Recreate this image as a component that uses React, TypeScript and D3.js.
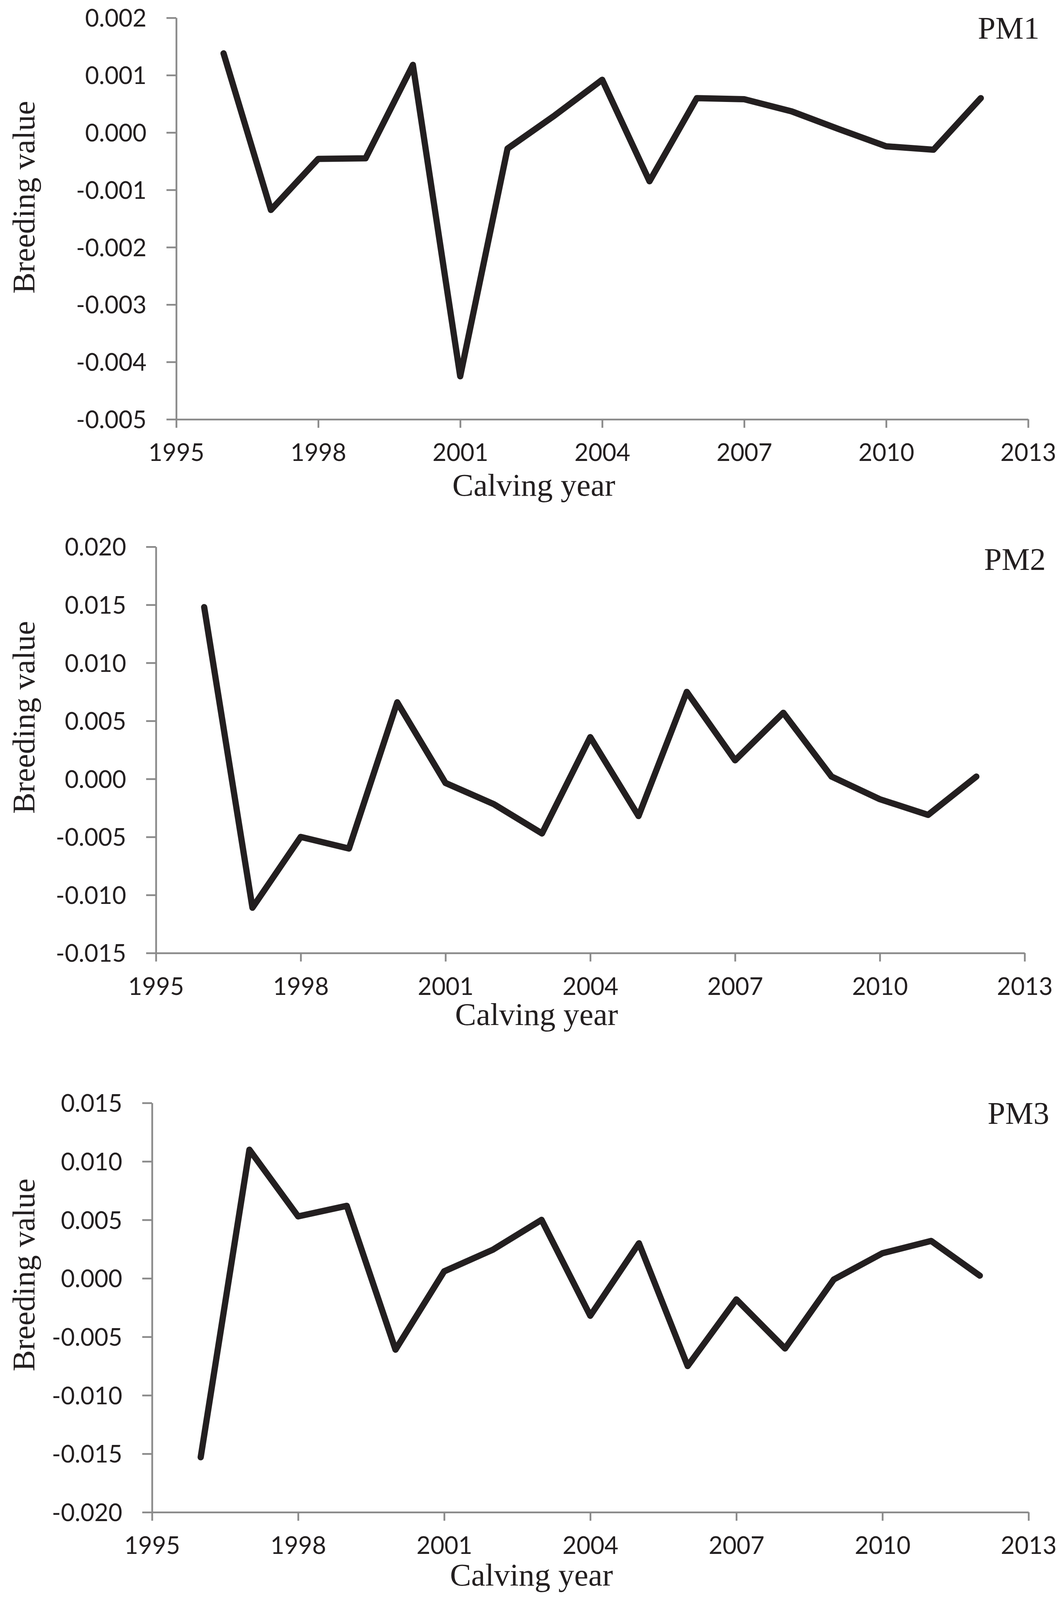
import React, { useEffect, useRef } from 'react';
import * as d3 from 'd3';

// calving years and the breeding value trend
const years = [1996, 1997, 1998, 1999, 2000, 2001, 2002, 2003, 2004, 2005, 2006, 2007, 2008, 2009, 2010, 2011, 2012];
const pm1 = [0.00138, -0.00135, -0.00046, -0.00045, 0.00118, -0.00425, -0.00028, 0.0003, 0.00092, -0.00085, 0.0006, 0.00058, 0.00037, 0.00006, -0.00024, -0.0003, 0.0006];
const pm2 = [0.0148, -0.0111, -0.005, -0.006, 0.0066, -0.00035, -0.00217, -0.0047, 0.0036, -0.0032, 0.0075, 0.0016, 0.0057, 0.0002, -0.00175, -0.0031, 0.0002];
const pm3 = [-0.0153, 0.011, 0.0053, 0.0062, -0.0061, 0.0006, 0.00245, 0.005, -0.0032, 0.003, -0.0075, -0.0018, -0.006, -0.0001, 0.00215, 0.0032, 0.00023];

const yearTicks = [1995, 1998, 2001, 2004, 2007, 2010, 2013];
const pm1Ticks = [-0.005, -0.004, -0.003, -0.002, -0.001, 0, 0.001, 0.002];
const pm2Ticks = [-0.015, -0.01, -0.005, 0, 0.005, 0.01, 0.015, 0.02];
const pm3Ticks = [-0.02, -0.015, -0.01, -0.005, 0, 0.005, 0.01, 0.015];

const W = 2710;
const H = 4679;

// layout measured on the 2710x4679 reference; y values get squeezed to fit the viewport
const panels = [
  { name: 'PM1', values: pm1, ticks: pm1Ticks, x0: 451, x1: 2631, y0: 34, y1: 1215, yLabelY: 562, xLabelX: 1366, xLabelBase: 1440, nameRight: 2660, nameBase: 95 },
  { name: 'PM2', values: pm2, ticks: pm2Ticks, x0: 399, x1: 2622, y0: 1590, y1: 2785, yLabelY: 2092, xLabelX: 1373, xLabelBase: 2997, nameRight: 2676, nameBase: 1658 },
  { name: 'PM3', values: pm3, ticks: pm3Ticks, x0: 389, x1: 2632, y0: 3226, y1: 4430, yLabelY: 3732, xLabelX: 1360, xLabelBase: 4646, nameRight: 2685, nameBase: 3287 },
];

const axisColor = '#8a8a8a';
const inkColor = '#231f20';
const tickFont = 'Lato, Carlito, Calibri, sans-serif';
const titleFont = '"Liberation Serif", "Times New Roman", serif';

const fmt = (d: number) => {
  const s = (+d).toFixed(3);
  return s === '-0.000' ? '0.000' : s;
};

const App: React.FC = () => {
  const svgRef = useRef<SVGSVGElement>(null);

  useEffect(() => {
    if (!svgRef.current) return;
    document.body.style.margin = '0';

    // the browser caps the viewport height, so fit the figure into what is shown
    const Hv = Math.min(H, window.innerHeight || H);
    const top = 16;
    const ky = (Hv - top - 8) / H;
    const fs = Math.sqrt(ky);
    const sy = (v: number) => top + v * ky;

    const svg = d3.select(svgRef.current)
      .attr('height', Hv)
      .attr('viewBox', `0 0 ${W} ${Hv}`);
    svg.selectAll('*').remove();

    panels.forEach(p => {
      const x = d3.scaleLinear().domain([1995, 2013]).range([p.x0, p.x1]);
      const y = d3.scaleLinear()
        .domain([p.ticks[0], p.ticks[p.ticks.length - 1]])
        .range([sy(p.y1), sy(p.y0)]);

      const g = svg.append('g');

      const yAxis = g.append('g')
        .attr('transform', `translate(${p.x0},0)`)
        .call(d3.axisLeft(y).tickValues(p.ticks).tickSize(25).tickSizeOuter(0).tickPadding(51).tickFormat(d => fmt(d as number)));

      const xAxis = g.append('g')
        .attr('transform', `translate(0,${sy(p.y1)})`)
        .call(d3.axisBottom(x).tickValues(yearTicks).tickSize(25 * ky).tickSizeOuter(0).tickFormat(d3.format('d')));

      [yAxis, xAxis].forEach(a => {
        a.attr('font-family', tickFont).attr('font-size', 66 * fs);
        a.select('.domain').attr('stroke', axisColor).attr('stroke-width', 4.5);
        a.selectAll('.tick line').attr('stroke', axisColor).attr('stroke-width', 4.5);
        a.selectAll('.tick text').attr('fill', inkColor);
      });
      yAxis.selectAll('.tick text').attr('dy', '0.36em');
      // year labels sit on a baseline 123px under the axis
      xAxis.selectAll('.tick text').attr('y', 123 * ky).attr('dy', 0);

      const line = d3.line<number>()
        .x((d, i) => x(years[i]))
        .y(d => y(d));

      g.append('path')
        .datum(p.values)
        .attr('d', line)
        .attr('fill', 'none')
        .attr('stroke', inkColor)
        .attr('stroke-width', 16)
        .attr('stroke-linejoin', 'round')
        .attr('stroke-linecap', 'round');

      g.append('text')
        .attr('transform', `translate(88,${sy(p.yLabelY)}) rotate(-90)`)
        .attr('text-anchor', 'middle')
        .attr('font-family', titleFont)
        .attr('font-size', 87 * fs)
        .attr('fill', inkColor)
        .text('Breeding value');

      g.append('text')
        .attr('x', p.xLabelX)
        .attr('y', sy(p.xLabelBase))
        .attr('text-anchor', 'middle')
        .attr('font-family', titleFont)
        .attr('font-size', 87 * fs)
        .attr('fill', inkColor)
        .text('Calving year');

      g.append('text')
        .attr('x', p.nameRight)
        .attr('y', sy(p.nameBase))
        .attr('text-anchor', 'end')
        .attr('font-family', titleFont)
        .attr('font-size', 87 * fs)
        .attr('fill', inkColor)
        .text(p.name);
    });
  }, []);

  return (
    <svg ref={svgRef} width={W} height={H} viewBox={`0 0 ${W} ${H}`} style={{ display: 'block', background: '#fff' }}></svg>
  );
};

export default App;
